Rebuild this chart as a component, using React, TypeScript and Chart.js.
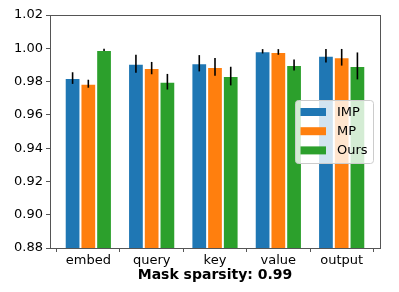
import React, { useEffect, useRef } from "react";
import { Chart, registerables } from "chart.js";

Chart.register(...registerables);

const categories = ["embed", "query", "key", "value", "output"];
const seriesNames = ["IMP", "MP", "Ours"];
const impValues = [0.9821, 0.9907, 0.991, 0.9982, 0.9955];
const impErrors = [0.0035, 0.0054, 0.0049, 0.0013, 0.004];
const mpValues = [0.9787, 0.9881, 0.9888, 0.9978, 0.9946];
const mpErrors = [0.0024, 0.0037, 0.0053, 0.0017, 0.005];
const oursValues = [0.999, 0.9799, 0.9833, 0.99, 0.9894];
const oursErrors = [0.0007, 0.0047, 0.0056, 0.0033, 0.0081];
const yTicks = [0.88, 0.9, 0.92, 0.94, 0.96, 0.98, 1.0, 1.02];
const xTitle = "Mask sparsity: 0.99";

const colors = ["#1f77b4", "#ff7f0e", "#2ca02c"];
const FONT = "'DejaVu Sans', sans-serif";

const errorBarPlugin = {
  id: "errorBars",
  afterDatasetsDraw(chart: any) {
    const ctx = chart.ctx;
    const y = chart.scales.y;
    const errs = [impErrors, mpErrors, oursErrors];
    const vals = [impValues, mpValues, oursValues];
    ctx.save();
    ctx.strokeStyle = "#000";
    ctx.lineWidth = 1.6;
    chart.data.datasets.forEach((_: any, i: number) => {
      const meta = chart.getDatasetMeta(i);
      meta.data.forEach((bar: any, j: number) => {
        const v = vals[i][j];
        const e = errs[i][j];
        ctx.beginPath();
        ctx.moveTo(bar.x, y.getPixelForValue(v + e));
        ctx.lineTo(bar.x, y.getPixelForValue(v - e));
        ctx.stroke();
      });
    });
    ctx.restore();
  },
};

const framePlugin = {
  id: "frame",
  afterDraw(chart: any) {
    const { ctx, chartArea } = chart;
    ctx.save();
    ctx.strokeStyle = "#555";
    ctx.lineWidth = 1;
    const l = Math.round(chartArea.left) + 0.5;
    const t = Math.round(chartArea.top) + 0.5;
    const r = Math.round(chartArea.right) + 0.5;
    const b = Math.round(chartArea.bottom) + 0.5;
    ctx.strokeRect(l, t, r - l, b - t);
    ctx.restore();
  },
};

const legendPlugin = {
  id: "customLegend",
  afterDraw(chart: any) {
    const { ctx, chartArea } = chart;
    const x0 = chartArea.right - 85;
    const y0 = 100;
    const w = 78;
    const h = 63;
    ctx.save();
    ctx.fillStyle = "rgba(255,255,255,0.8)";
    ctx.strokeStyle = "#cccccc";
    ctx.lineWidth = 1;
    ctx.beginPath();
    (ctx as any).roundRect(x0 + 0.5, y0 + 0.5, w, h, 3);
    ctx.fill();
    ctx.stroke();
    ctx.font = `13px ${FONT}`;
    ctx.textBaseline = "middle";
    seriesNames.forEach((name, i) => {
      const cy = y0 + 12 + i * 19.2;
      ctx.fillStyle = colors[i];
      ctx.fillRect(x0 + 5.5, cy - 4, 25.5, 8);
      ctx.fillStyle = "#000";
      ctx.fillText(name, x0 + 42, cy + 0.5);
    });
    ctx.restore();
  },
};

export default function App() {
  const ref = useRef<HTMLCanvasElement>(null);
  useEffect(() => {
    document.body.style.margin = "0";
    const mk = (vals: number[]) => vals.map((v, i) => ({ x: i, y: v }));
    const chart = new Chart(ref.current as HTMLCanvasElement, {
      type: "bar",
      data: {
        datasets: [
          { label: seriesNames[0], data: mk(impValues) as any, backgroundColor: colors[0] },
          { label: seriesNames[1], data: mk(mpValues) as any, backgroundColor: colors[1] },
          { label: seriesNames[2], data: mk(oursValues) as any, backgroundColor: colors[2] },
        ],
      },
      options: {
        responsive: false,
        animation: false,
        devicePixelRatio: 1,
        layout: { padding: { left: 0, right: 19, top: 15, bottom: 0 } },
        datasets: {
          bar: {
            categoryPercentage: 0.745,
            barPercentage: 1,
            borderColor: "#ffffff",
            borderWidth: 1,
          },
        } as any,
        plugins: {
          legend: { display: false },
          tooltip: { enabled: false },
        },
        scales: {
          x: {
            type: "linear",
            min: -0.605,
            max: 4.605,
            offset: false,
            afterBuildTicks: (axis: any) => {
              axis.ticks = categories.map((_, i) => ({ value: i }));
            },
            afterFit: (axis: any) => {
              axis.height = 44;
            },
            ticks: {
              callback: (v: any) => categories[Math.round(Number(v))] ?? "",
              color: "#000",
              font: { family: FONT, size: 13 },
              padding: 1,
              maxRotation: 0,
              autoSkip: false,
            },
            grid: {
              display: true,
              drawOnChartArea: false,
              drawTicks: true,
              tickLength: 4,
              color: "#555",
            },
            border: { display: false },
            title: {
              display: true,
              text: xTitle,
              color: "#000",
              font: { family: FONT, size: 14, weight: "bold" },
              padding: { top: 0, bottom: 8 },
            },
          },
          y: {
            min: 0.88,
            max: 1.02,
            afterBuildTicks: (axis: any) => {
              axis.ticks = yTicks.map((v) => ({ value: v }));
            },
            afterFit: (axis: any) => {
              axis.width = 50;
            },
            ticks: {
              callback: (v: any) => Number(v).toFixed(2),
              color: "#000",
              font: { family: FONT, size: 13 },
              padding: 3,
            },
            grid: {
              display: true,
              drawOnChartArea: false,
              drawTicks: true,
              tickLength: 4,
              color: "#555",
            },
            border: { display: false },
          },
        },
      },
      plugins: [errorBarPlugin, framePlugin, legendPlugin],
    });
    return () => chart.destroy();
  }, []);
  return (
    <div style={{ position: "fixed", left: 0, top: 0, width: 399, height: 292, background: "#fff" }}>
      <canvas ref={ref} width={399} height={292} style={{ width: 399, height: 292 }} />
    </div>
  );
}
